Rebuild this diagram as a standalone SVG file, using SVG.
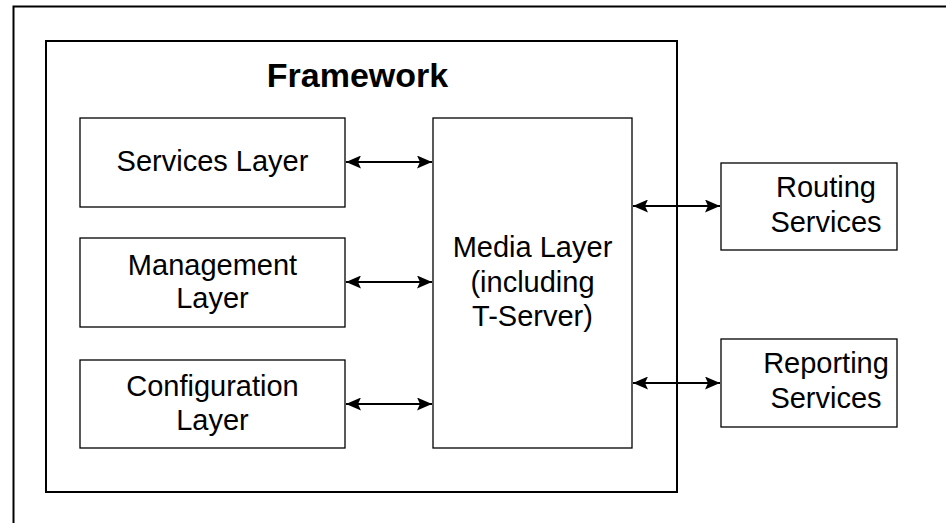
<svg xmlns="http://www.w3.org/2000/svg" width="946" height="523" viewBox="0 0 946 523">
<style>
.box{fill:#fff;stroke:#000;stroke-width:1.3}
.frame{fill:none;stroke:#000;stroke-width:2}
.t{font-family:"Liberation Sans",Arial,sans-serif;font-size:29px;fill:#000;text-anchor:middle}
.title{font-family:"Liberation Sans",Arial,sans-serif;font-size:34px;font-weight:bold;fill:#000;text-anchor:middle}
.c{stroke:#000;stroke-width:2;fill:none;marker-start:url(#ah);marker-end:url(#ah)}
</style>
<defs>
<marker id="ah" viewBox="0 0 15 13" refX="15" refY="6.5" markerWidth="15" markerHeight="13" markerUnits="userSpaceOnUse" orient="auto-start-reverse">
<path d="M0,0 L15,6.5 L0,13 L3,6.5 Z" fill="#000"/>
</marker>
</defs>
<rect width="946" height="523" fill="#fff"/>
<g id="outer"><path class="frame" d="M13.5,530 V6.5 H950"/></g>
<g id="framework">
<rect class="frame" x="46" y="41" width="631" height="451"/>
<text class="title" x="357.5" y="87">Framework</text>
</g>
<g id="services-layer">
<rect class="box" x="80" y="118" width="265" height="89"/>
<text class="t" x="212.5" y="171">Services Layer</text>
</g>
<g id="management-layer">
<rect class="box" x="80" y="238" width="265" height="89"/>
<text class="t" x="212.5" y="275">Management</text>
<text class="t" x="212.5" y="308">Layer</text>
</g>
<g id="configuration-layer">
<rect class="box" x="80" y="360" width="265" height="88"/>
<text class="t" x="212.5" y="396">Configuration</text>
<text class="t" x="212.5" y="430">Layer</text>
</g>
<g id="media-layer">
<rect class="box" x="433" y="118" width="199" height="330"/>
<text class="t" x="532.5" y="257">Media Layer</text>
<text class="t" x="532.5" y="292">(including</text>
<text class="t" x="532.5" y="326">T-Server)</text>
</g>
<g id="routing-services">
<rect class="box" x="721" y="163" width="176" height="87"/>
<text class="t" x="826" y="197">Routing</text>
<text class="t" x="826" y="232">Services</text>
</g>
<g id="reporting-services">
<rect class="box" x="721" y="339" width="176" height="88"/>
<text class="t" x="826" y="373">Reporting</text>
<text class="t" x="826" y="408">Services</text>
</g>
<g id="connectors">
<line class="c" x1="346" y1="162" x2="432" y2="162"/>
<line class="c" x1="346" y1="282" x2="432" y2="282"/>
<line class="c" x1="346" y1="404" x2="432" y2="404"/>
<line class="c" x1="633" y1="206" x2="720" y2="206"/>
<line class="c" x1="633" y1="383" x2="720" y2="383"/>
</g>
</svg>
